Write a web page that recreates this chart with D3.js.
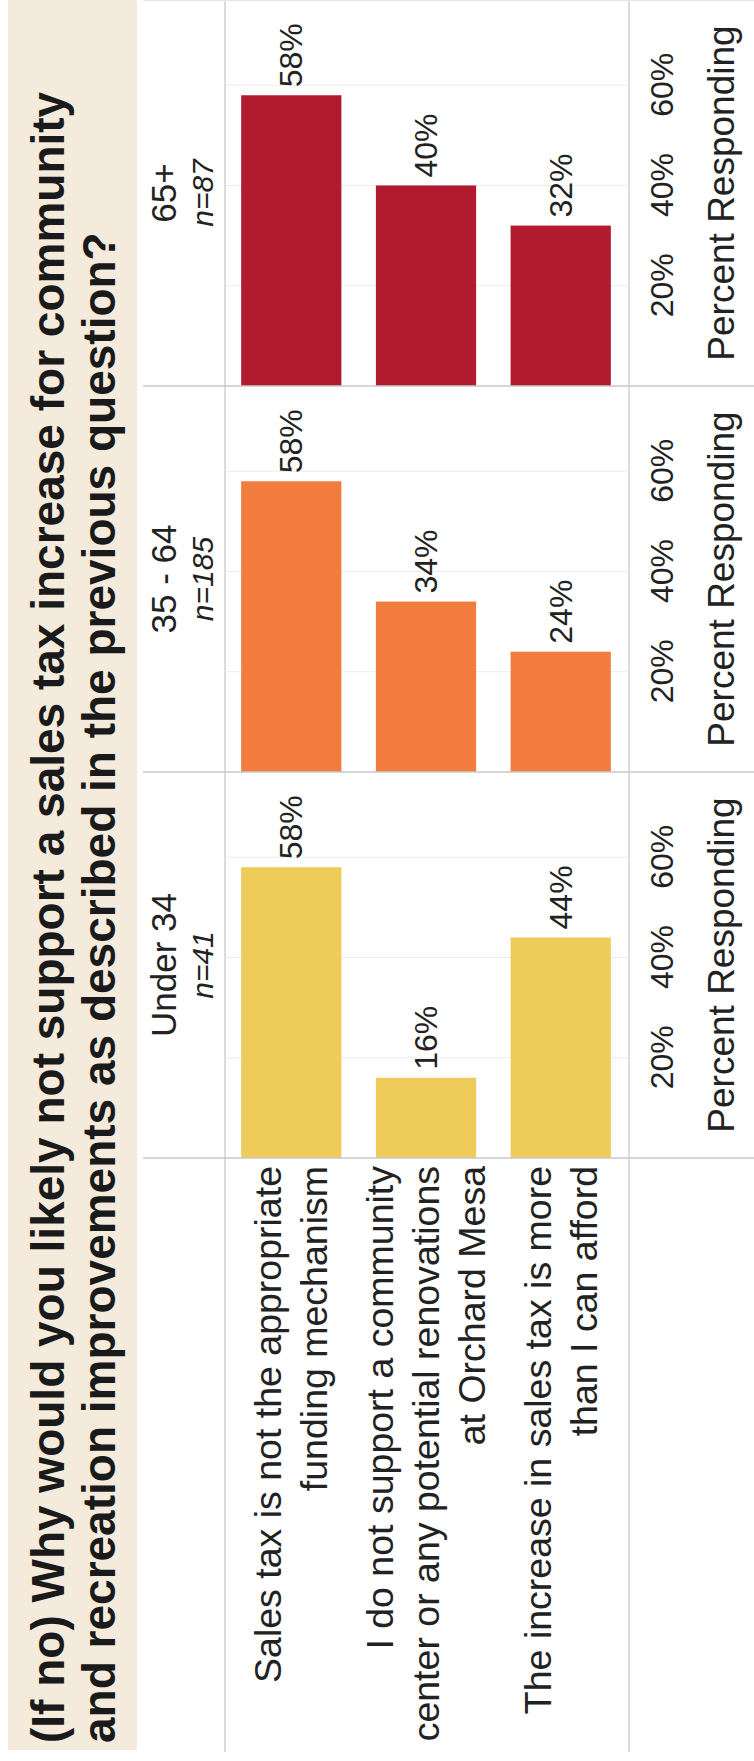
<!DOCTYPE html>
<html>
<head>
<meta charset="utf-8">
<script src="https://cdn.jsdelivr.net/npm/d3@7"></script>
<style>
  html, body { margin: 0; padding: 0; background: #ffffff; }
  svg { display: block; }
  text { font-family: "Liberation Sans", Arial, sans-serif; fill: #222; }
</style>
</head>
<body>
<svg id="chart" width="754" height="1761"></svg>
<script>
// ---- data ----
const titleLines = [
  "(If no) Why would you likely not support a sales tax increase for community",
  "and recreation improvements as described in the previous question?"
];
const categories = [
  "Sales tax is not the appropriate funding mechanism",
  "I do not support a community center or any potential renovations at Orchard Mesa",
  "The increase in sales tax is more than I can afford"
];
const categoryLines = [
  ["Sales tax is not the appropriate", "funding mechanism"],
  ["I do not support a community", "center or any potential renovations", "at Orchard Mesa"],
  ["The increase in sales tax is more", "than I can afford"]
];
const groups = ["Under 34", "35 - 64", "65+"];
const groupN = ["n=41", "n=185", "n=87"];
const under34 = [0.58, 0.16, 0.44];
const age35to64 = [0.58, 0.34, 0.24];
const age65plus = [0.58, 0.40, 0.32];
const groupColors = ["#EFCB5A", "#F27B3E", "#B01B30"];
const tickValues = [0.2, 0.4, 0.6];
const axisTitle = "Percent Responding";

const seriesValues = [under34, age35to64, age65plus];

// ---- layout (unrotated frame: W x H, then rotated -90deg) ----
const W = 1761, H = 754;
const svg = d3.select("#chart");
const g = svg.append("g").attr("transform", `translate(0,${W}) rotate(-90)`);

const labelColRight = 603;
const panelW = (W - labelColRight) / 3;
const headerTop = 143, plotTop = 225, plotBottom = 629, tableBottom = H;

// title band
g.append("rect").attr("x", 11).attr("y", 8).attr("width", W - 11).attr("height", 129)
  .attr("fill", "#F4EBDC");
g.selectAll("text.title").data(titleLines).join("text")
  .attr("class", "title")
  .attr("x", 18)
  .attr("y", (d, i) => 64 + i * 51)
  .attr("font-size", 46).attr("font-weight", "bold")
  .style("fill", "#1a1a1a")
  .text(d => d);

const y = d3.scaleBand().domain(categories).range([plotTop, 627])
  .paddingInner(0.256).paddingOuter(0.12);

const x = d3.scaleLinear().domain([0, 0.77]).range([0, panelW]);

// structural lines
const lineColor = "#c9c9c9";
[plotTop, plotBottom].forEach(v => {
  g.append("line").attr("x1", 9).attr("x2", W).attr("y1", v).attr("y2", v)
    .attr("stroke", lineColor).attr("stroke-width", 1.3);
});

groups.forEach((grp, gi) => {
  const x0 = labelColRight + gi * panelW;
  const pg = g.append("g").attr("transform", `translate(${x0},0)`);

  // gridlines
  pg.selectAll("line.grid").data(tickValues).join("line")
    .attr("class", "grid")
    .attr("x1", d => x(d)).attr("x2", d => x(d))
    .attr("y1", plotTop).attr("y2", plotBottom)
    .attr("stroke", "#ececec").attr("stroke-width", 1);

  // bars
  pg.selectAll("rect.bar").data(seriesValues[gi]).join("rect")
    .attr("class", "bar")
    .attr("x", 0)
    .attr("y", (d, i) => y(categories[i]))
    .attr("width", d => x(d))
    .attr("height", y.bandwidth())
    .attr("fill", groupColors[gi]);

  // value labels
  pg.selectAll("text.val").data(seriesValues[gi]).join("text")
    .attr("class", "val")
    .attr("x", d => x(d) + 8)
    .attr("y", (d, i) => y(categories[i]) + y.bandwidth() / 2)
    .attr("dominant-baseline", "central")
    .attr("font-size", 32)
    .text(d => d3.format(".0%")(d));

  // axis tick labels
  const axis = d3.axisBottom(x).tickValues(tickValues).tickFormat(d3.format(".0%")).tickSize(0);
  const ax = pg.append("g").attr("transform", `translate(0,${plotBottom})`).call(axis);
  ax.select(".domain").remove();
  ax.selectAll("text")
    .attr("y", 33).attr("dy", 0)
    .attr("dominant-baseline", "central")
    .attr("font-size", 32)
    .style("font-family", '"Liberation Sans", Arial, sans-serif')
    .style("fill", "#222");

  // axis title
  pg.append("text").attr("x", panelW / 2).attr("y", 721)
    .attr("text-anchor", "middle").attr("dominant-baseline", "central")
    .attr("font-size", 37).text(axisTitle);

  // header
  pg.append("text").attr("x", panelW / 2).attr("y", 163)
    .attr("text-anchor", "middle").attr("dominant-baseline", "central")
    .attr("font-size", 35).text(grp);
  pg.append("text").attr("x", panelW / 2).attr("y", 202)
    .attr("text-anchor", "middle").attr("dominant-baseline", "central")
    .attr("font-size", 30).attr("font-style", "italic").text(groupN[gi]);
});

// panel separators
const seps = d3.range(4).map(i => labelColRight + i * panelW);
g.selectAll("line.sep").data(seps).join("line")
  .attr("class", "sep")
  .attr("x1", d => Math.min(d, W - 0.5)).attr("x2", d => Math.min(d, W - 0.5))
  .attr("y1", headerTop).attr("y2", H)
  .attr("stroke", (d, i) => i === 3 ? "#e6e6e6" : lineColor).attr("stroke-width", 1.3);

// row labels
const lh = 46;
categoryLines.forEach((lines, ci) => {
  const cy = y(categories[ci]) + y.bandwidth() / 2;
  const start = cy - (lines.length - 1) * lh / 2;
  g.selectAll(null).data(lines).join("text")
    .attr("x", labelColRight - 8)
    .attr("y", (d, i) => start + i * lh)
    .attr("text-anchor", "end").attr("dominant-baseline", "central")
    .attr("font-size", 37.5)
    .text(d => d);
});
</script>
</body>
</html>
